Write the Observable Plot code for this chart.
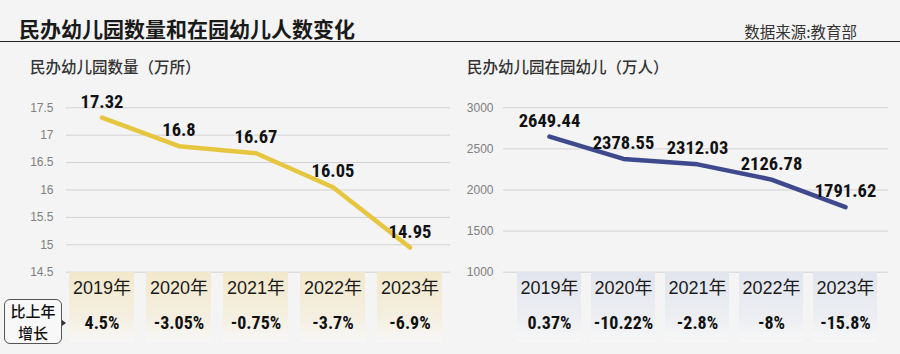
<!DOCTYPE html>
<html>
<head>
<meta charset="utf-8">
<script src="https://cdn.jsdelivr.net/npm/d3@7"></script>
<script src="https://cdn.jsdelivr.net/npm/@observablehq/plot@0.6"></script>
<style>
  html, body { margin: 0; padding: 0; background: #f4f4f4; }
  #root { position: relative; width: 900px; height: 354px; overflow: hidden; background: #f4f4f4;
          font-family: "Liberation Sans", Arial, "Noto Sans CJK SC", sans-serif; }
  .abs { position: absolute; white-space: nowrap; }
  #title { left: 19px; top: 18px; font: bold 21px/21px "Noto Sans CJK SC", sans-serif; color: #1a1a1a; }
  #source { right: 43px; top: 24px; font: 15.5px/15.5px "Noto Sans CJK SC", sans-serif; color: #333; }
  #rule { left: 0; top: 40.5px; width: 900px; height: 0; border-top: 1.5px solid #222; }
  .sub { top: 59px; font: 500 15.5px/15.5px "Noto Sans CJK SC", sans-serif; color: #333; }
  #growth { left: 4px; top: 299px; width: 56px; height: 43px; border: 1px solid #555; border-radius: 6px;
            background: #f8f8f8; text-align: center; font: 500 15px/21.5px "Noto Sans CJK SC", sans-serif; color: #111; }
  #tri { left: 62px; top: 320px; width: 0; height: 0; border-left: 4px solid #333;
         border-top: 3.5px solid transparent; border-bottom: 3.5px solid transparent; }
</style>
</head>
<body>
<div id="root">
  <div id="title" class="abs">民办幼儿园数量和在园幼儿人数变化</div>
  <div id="source" class="abs">数据来源:教育部</div>
  <div id="rule" class="abs"></div>
  <div class="abs sub" style="left:30px">民办幼儿园数量（万所）</div>
  <div class="abs sub" style="left:467px">民办幼儿园在园幼儿（万人）</div>
  <div id="growth" class="abs">比上年<br>增长</div>
  <div id="tri" class="abs"></div>
</div>
<script>
// ---- data ----
const years = ["2019年", "2020年", "2021年", "2022年", "2023年"];
const kindergartens = [17.32, 16.8, 16.67, 16.05, 14.95];          // 万所
const kindergartenGrowth = ["4.5%", "-3.05%", "-0.75%", "-3.7%", "-6.9%"];
const children = [2649.44, 2378.55, 2312.03, 2126.78, 1791.62];     // 万人
const childrenGrowth = ["0.37%", "-10.22%", "-2.8%", "-8%", "-15.8%"];
const leftTicks = [14.5, 15, 15.5, 16, 16.5, 17, 17.5];
const rightTicks = [1000, 1500, 2000, 2500, 3000];

const numFont = '"Liberation Sans Narrow", "Arial Narrow", "Roboto Condensed", "Liberation Sans", sans-serif';
const root = document.getElementById("root");

function place(el, left, top) {
  el.style.position = "absolute";
  el.style.left = left + "px";
  el.style.top = top + "px";
  root.appendChild(el);
}

function addGradient(svg, id, top, mid) {
  const defs = d3.select(svg).insert("defs", ":first-child");
  const g = defs.append("linearGradient").attr("id", id).attr("x1", 0).attr("y1", 0).attr("x2", 0).attr("y2", 1);
  g.append("stop").attr("offset", "0%").attr("stop-color", top);
  g.append("stop").attr("offset", "65%").attr("stop-color", mid);
  g.append("stop").attr("offset", "100%").attr("stop-color", "#f7f7f7");
}

function panel({left, values, growth, ticks, domain, yRange, xRange, padIn, padOut, mLeft, mRight, tickPad, color, boxTop, boxMid, gid}) {
  const data = years.map((y, i) => ({year: y, value: values[i], growth: growth[i]}));
  const xScale = {type: "band", domain: years, range: xRange, paddingInner: padIn, paddingOuter: padOut, axis: null};
  const chart = Plot.plot({
    width: 450, height: 190,
    marginLeft: mLeft, marginRight: mRight, marginTop: 0, marginBottom: 0,
    style: {background: "transparent", overflow: "visible", fontFamily: '"Liberation Sans", Arial, sans-serif'},
    x: xScale,
    y: {domain, range: yRange, ticks, tickSize: 0, tickPadding: tickPad, label: null, tickFormat: d => String(d)},
    marks: [
      Plot.ruleY(ticks, {stroke: "#d2d2d2", strokeWidth: 1}),
      Plot.line(data, {x: "year", y: "value", stroke: color, strokeWidth: 4.5, strokeLinejoin: "round", strokeLinecap: "round"}),
      Plot.text(data, {x: "year", y: "value", text: d => String(d.value), dy: -10, lineAnchor: "bottom",
        fontSize: 18.5, fontWeight: "bold", fill: "#111", fontFamily: numFont})
    ]
  });
  d3.select(chart).select('g[aria-label="y-axis tick label"]').attr("font-size", 12).attr("fill", "#808080");
  d3.select(chart).select('g[aria-label="y-axis"]').attr("font-size", 12).attr("fill", "#808080");
  place(chart, left, 90);

  const row = Plot.plot({
    width: 450, height: 70,
    marginLeft: mLeft, marginRight: mRight, marginTop: 0, marginBottom: 0,
    style: {background: "transparent", overflow: "visible"},
    x: xScale,
    marks: [
      Plot.cell(data, {x: "year", fill: `url(#${gid})`}),
      Plot.text(data, {x: "year", text: "year", frameAnchor: "top", dy: 21, lineAnchor: "bottom",
        fontSize: 18, fill: "#1a1a1a", fontFamily: '"Liberation Sans", Arial, "Noto Sans CJK SC", sans-serif'}),
      Plot.text(data, {x: "year", text: "growth", frameAnchor: "top", dy: 56, lineAnchor: "bottom",
        fontSize: 18, fontWeight: "bold", fill: "#111", fontFamily: numFont})
    ]
  });
  addGradient(row, gid, boxTop, boxMid);
  place(row, left, 272);
}

panel({left: 0, values: kindergartens, growth: kindergartenGrowth, ticks: leftTicks, domain: [14.5, 17.5],
  yRange: [181.7, 17.3], xRange: [62.5, 447.5], padIn: 0.16, padOut: 0.08, mLeft: 66, mRight: 0, tickPad: 13,
  color: "#e6c53f", boxTop: "#f2e8cb", boxMid: "#f4efe1", gid: "gradL"});
panel({left: 450, values: children, growth: childrenGrowth, ticks: rightTicks, domain: [1000, 3000],
  yRange: [181.7, 17.3], xRange: [59.5, 434.5], padIn: 0.133, padOut: 0.0667, mLeft: 53, mRight: 12, tickPad: 10,
  color: "#3e4a8d", boxTop: "#e2e5ee", boxMid: "#eceef2", gid: "gradR"});
root.appendChild(document.getElementById("growth"));
root.appendChild(document.getElementById("tri"));
</script>
</body>
</html>
